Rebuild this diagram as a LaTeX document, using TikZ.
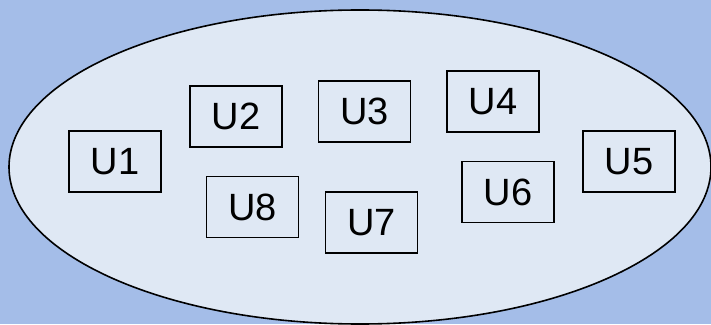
\documentclass[tikz,border=0pt]{standalone}
\usepackage{fontspec}
\setmainfont{Liberation Sans}
\definecolor{bgblue}{HTML}{A4BDE8}
\definecolor{ellfill}{HTML}{DFE8F4}
\begin{document}
\begin{tikzpicture}[x=1pt,y=1pt,
  ubox/.style={draw=black,line width=1.3pt,minimum width=92pt,minimum height=61pt,inner sep=0pt,font=\fontsize{38}{40}\selectfont}]
\fill[bgblue] (0,0) rectangle (711,324);
\useasboundingbox (0,0) rectangle (711,324);
\draw[fill=ellfill,line width=1.6pt] (360,157) ellipse [x radius=351, y radius=157];
\node[ubox] (u1) at (115,162.5) {U1};
\node[ubox] (u2) at (236,207.5) {U2};
\node[ubox] (u3) at (364.5,212.5) {U3};
\node[ubox] (u4) at (493,222.5) {U4};
\node[ubox] (u5) at (629,162.5) {U5};
\node[ubox] (u6) at (508,132) {U6};
\node[ubox] (u7) at (371.5,101.5) {U7};
\node[ubox] (u8) at (252.5,117) {U8};
\end{tikzpicture}
\end{document}
